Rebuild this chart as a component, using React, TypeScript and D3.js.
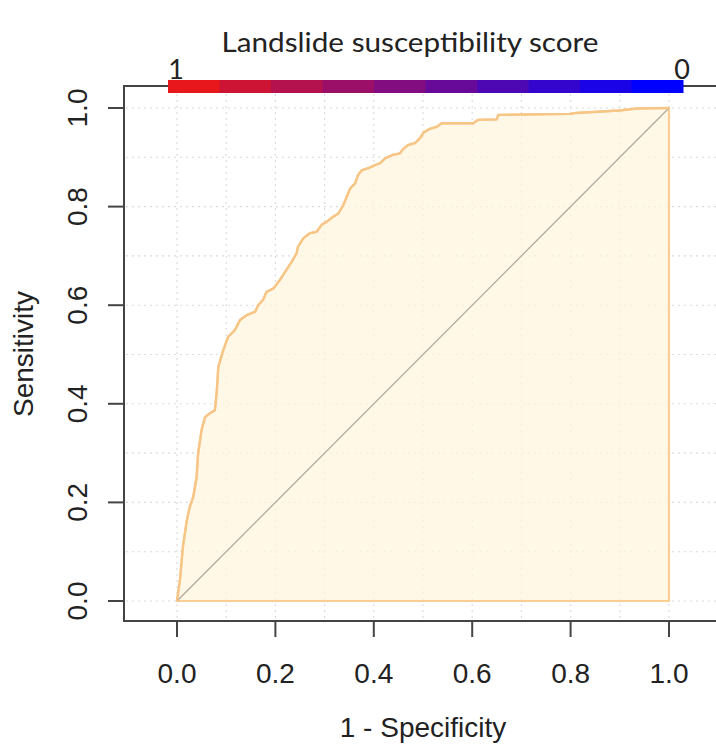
import React from "react";
import * as d3 from "d3";

const fpr = [0, 0.006, 0.012, 0.02, 0.026, 0.033, 0.04, 0.043, 0.05, 0.057, 0.067, 0.077, 0.081, 0.084, 0.094, 0.104, 0.118, 0.128, 0.142, 0.159, 0.165, 0.175, 0.182, 0.196, 0.209, 0.22, 0.233, 0.243, 0.246, 0.257, 0.27, 0.284, 0.294, 0.304, 0.318, 0.328, 0.338, 0.345, 0.352, 0.362, 0.368, 0.376, 0.389, 0.402, 0.413, 0.423, 0.439, 0.453, 0.46, 0.47, 0.484, 0.494, 0.501, 0.512, 0.528, 0.538, 0.602, 0.612, 0.65, 0.653, 0.799, 0.812, 0.9, 0.934, 1];
const tpr = [0, 0.043, 0.11, 0.164, 0.191, 0.211, 0.252, 0.3, 0.347, 0.373, 0.381, 0.387, 0.428, 0.475, 0.509, 0.536, 0.55, 0.57, 0.58, 0.587, 0.6, 0.611, 0.627, 0.634, 0.651, 0.668, 0.688, 0.705, 0.719, 0.736, 0.746, 0.749, 0.763, 0.769, 0.78, 0.786, 0.803, 0.82, 0.837, 0.847, 0.864, 0.874, 0.878, 0.884, 0.888, 0.898, 0.905, 0.908, 0.917, 0.925, 0.929, 0.939, 0.95, 0.957, 0.962, 0.969, 0.969, 0.976, 0.977, 0.986, 0.988, 0.99, 0.995, 0.999, 1];
const tickValues = [0, 0.2, 0.4, 0.6, 0.8, 1.0];
const gridValues = [0, 0.1, 0.2, 0.3, 0.4, 0.5, 0.6, 0.7, 0.8, 0.9, 1.0];
const colorStops = ["#e8171c", "#0000ff"];
const colorSteps = 10;
const scoreLabels = ["1", "0"];

export default function App() {
  const W = 716, H = 744;
  const x = d3.scaleLinear().domain([0, 1]).range([177, 669]);
  const y = d3.scaleLinear().domain([0, 1]).range([601, 108]);
  const pts: [number, number][] = fpr.map((f, i) => [f, tpr[i]]);
  const line = d3.line<[number, number]>().x(d => x(d[0])).y(d => y(d[1]));
  const poly: [number, number][] = [...pts, [1, 0], [0, 0]];
  const frameL = 124, frameT = 86, frameB = 621;
  const cbX0 = 168, cbX1 = 683, cbY = 80, cbH = 13;
  const interp = d3.interpolateRgb(colorStops[0], colorStops[1]);
  const stepW = (cbX1 - cbX0) / colorSteps;
  const font = "'Liberation Sans', Arial, sans-serif";
  const titleFont = "Lato, 'Open Sans', sans-serif";
  return (
    <svg width={W} height={H} style={{ position: "absolute", left: 0, top: 0, background: "#fff" }}>
      {/* grid */}
      {gridValues.map(g => (
        <line key={"h" + g} x1={frameL + 2} x2={W} y1={y(g)} y2={y(g)} stroke="#dadada" strokeWidth={1.1} strokeDasharray="2 4" />
      ))}
      {gridValues.map(g => (
        <line key={"v" + g} x1={x(g)} x2={x(g)} y1={frameT + 2} y2={frameB - 1} stroke="#dadada" strokeWidth={1.1} strokeDasharray="2 4" />
      ))}
      {/* area */}
      <path d={line(poly) + "Z"} fill="#fff6df" fillOpacity={0.75} stroke="#f9cd93" strokeWidth={2.2} strokeLinejoin="round" />
      {/* diagonal */}
      <line x1={x(0)} y1={y(0)} x2={x(1)} y2={y(1)} stroke="#b0aaa0" strokeWidth={1.3} />
      {/* curve on top */}
      <path d={line(pts) || ""} fill="none" stroke="#f7c585" strokeWidth={2.4} strokeLinejoin="round" />
      {/* frame */}
      <line x1={frameL} x2={frameL} y1={frameT} y2={frameB} stroke="#444" strokeWidth={2} />
      <line x1={frameL - 1} x2={W} y1={frameT} y2={frameT} stroke="#444" strokeWidth={2} />
      <line x1={frameL - 1} x2={W} y1={frameB} y2={frameB} stroke="#444" strokeWidth={2} />
      {/* x ticks */}
      {tickValues.map(t => (
        <g key={"xt" + t}>
          <line x1={x(t)} x2={x(t)} y1={frameB} y2={frameB + 16} stroke="#444" strokeWidth={2} />
          <text x={x(t)} y={683} textAnchor="middle" fontFamily={font} fontSize={28} fill="#222">{d3.format(".1f")(t)}</text>
        </g>
      ))}
      {/* y ticks */}
      {tickValues.map(t => (
        <g key={"yt" + t}>
          <line x1={frameL - 16} x2={frameL} y1={y(t)} y2={y(t)} stroke="#444" strokeWidth={2} />
          <text transform={`translate(87,${y(t)}) rotate(-90)`} textAnchor="middle" fontFamily={font} fontSize={28} fill="#222">{d3.format(".1f")(t)}</text>
        </g>
      ))}
      {/* axis titles */}
      <text x={423} y={737} textAnchor="middle" fontFamily={font} fontSize={28} fill="#222">1 - Specificity</text>
      <text transform={`translate(33,354) rotate(-90)`} textAnchor="middle" fontFamily={font} fontSize={28} fill="#222">Sensitivity</text>
      {/* colorbar */}
      {d3.range(colorSteps).map(i => (
        <rect key={"cb" + i} x={cbX0 + i * stepW} y={cbY} width={stepW + 0.5} height={cbH} fill={interp(i / (colorSteps - 1))} />
      ))}
      <text x={410} y={52} textAnchor="middle" fontFamily={titleFont} fontSize={27} textLength={377} lengthAdjust="spacingAndGlyphs" fill="#222">Landslide susceptibility score</text>
      <text x={176} y={79} textAnchor="middle" fontFamily={titleFont} fontSize={27} fill="#222">{scoreLabels[0]}</text>
      <text x={682} y={79} textAnchor="middle" fontFamily={titleFont} fontSize={27} fill="#222">{scoreLabels[1]}</text>
    </svg>
  );
}
